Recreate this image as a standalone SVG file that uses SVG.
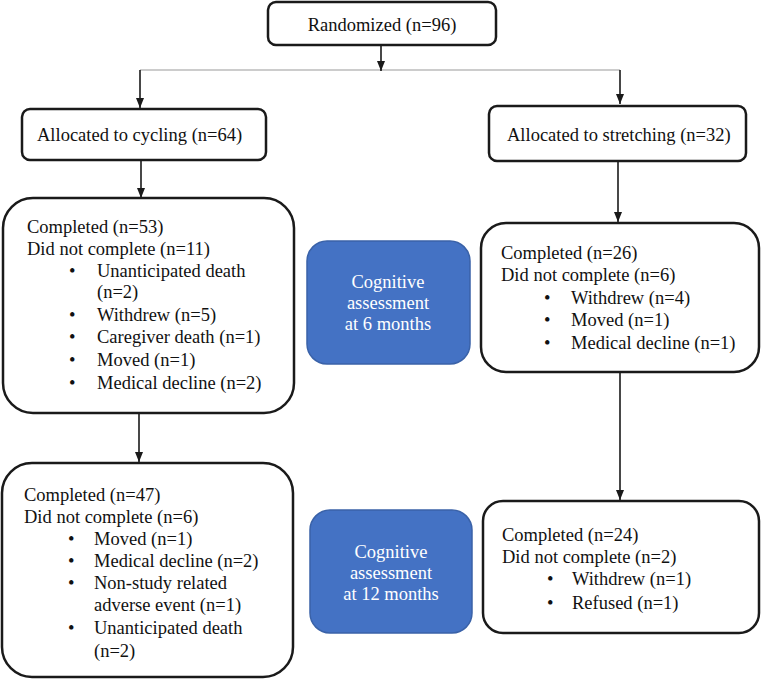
<svg xmlns="http://www.w3.org/2000/svg" width="761" height="679" viewBox="0 0 761 679" font-family="'Liberation Serif', 'DejaVu Serif', serif">
<defs>
<marker id="ah" viewBox="0 0 10 10" refX="10" refY="5" markerWidth="10" markerHeight="10" markerUnits="userSpaceOnUse" orient="auto">
<path d="M0,1 L10,5 L0,9 Z" fill="#1a1a1a"/>
</marker>
</defs>
<style>
.box{fill:#fff;stroke:#1a1a1a;stroke-width:2.5}
.blue{fill:#4472c4;stroke:#3a62a8;stroke-width:1.5}
text{font-family:'Liberation Serif','DejaVu Serif',serif;font-size:18.5px;fill:#111}
.w{fill:#fff}
.c{text-anchor:middle}
.ln{stroke:#1a1a1a;stroke-width:1.6;fill:none}
.thin{stroke:#999;stroke-width:1.2;fill:none}
</style>
<rect width="761" height="679" fill="#fff"/>
<g id="connectors">
<line class="thin" x1="140" y1="70" x2="620" y2="70"/>
<line class="ln" x1="381" y1="45" x2="381" y2="71" marker-end="url(#ah)"/>
<line class="ln" x1="140" y1="70" x2="140" y2="108" marker-end="url(#ah)"/>
<line class="ln" x1="620" y1="70" x2="620" y2="104" marker-end="url(#ah)"/>
<line class="ln" x1="141" y1="160" x2="141" y2="198" marker-end="url(#ah)"/>
<line class="ln" x1="618" y1="161" x2="618" y2="222" marker-end="url(#ah)"/>
<line class="ln" x1="139" y1="414" x2="139" y2="462" marker-end="url(#ah)"/>
<line class="ln" x1="620" y1="372" x2="620" y2="500" marker-end="url(#ah)"/>
</g>
<g id="randomized">
<rect class="box" x="268" y="2" width="228" height="43" rx="8"/>
<text class="c" x="382" y="31">Randomized (n=96)</text>
</g>
<g id="cycling">
<rect class="box" x="22" y="109" width="244" height="51" rx="8"/>
<text x="37" y="141">Allocated to cycling (n=64)</text>
</g>
<g id="stretching">
<rect class="box" x="489" y="106" width="257" height="55" rx="8"/>
<text x="507" y="141">Allocated to stretching (n=32)</text>
</g>
<g id="cycling-6m">
<rect class="box" x="3" y="198" width="291" height="215" rx="30"/>
<text x="27" y="233">Completed (n=53)</text>
<text x="27" y="255">Did not complete (n=11)</text>
<text x="69" y="277">•</text><text x="97" y="277">Unanticipated death</text>
<text x="97" y="298">(n=2)</text>
<text x="69" y="321">•</text><text x="97" y="321">Withdrew (n=5)</text>
<text x="69" y="343">•</text><text x="97" y="343">Caregiver death (n=1)</text>
<text x="69" y="366">•</text><text x="97" y="366">Moved (n=1)</text>
<text x="69" y="389">•</text><text x="97" y="389">Medical decline (n=2)</text>
</g>
<g id="assess-6m">
<rect class="blue" x="307" y="241" width="163" height="123" rx="20"/>
<text class="w c" x="388" y="288">Cognitive</text>
<text class="w c" x="388" y="309">assessment</text>
<text class="w c" x="388" y="330">at 6 months</text>
</g>
<g id="stretching-6m">
<rect class="box" x="481" y="223" width="278" height="149" rx="25"/>
<text x="501" y="259">Completed (n=26)</text>
<text x="501" y="281">Did not complete (n=6)</text>
<text x="544" y="304">•</text><text x="571" y="304">Withdrew (n=4)</text>
<text x="544" y="326">•</text><text x="571" y="326">Moved (n=1)</text>
<text x="544" y="349">•</text><text x="571" y="349">Medical decline (n=1)</text>
</g>
<g id="cycling-12m">
<rect class="box" x="2" y="463" width="291" height="214" rx="30"/>
<text x="24" y="501">Completed (n=47)</text>
<text x="24" y="523">Did not complete (n=6)</text>
<text x="68" y="545">•</text><text x="94" y="545">Moved (n=1)</text>
<text x="68" y="567">•</text><text x="94" y="567">Medical decline (n=2)</text>
<text x="68" y="589">•</text><text x="94" y="589">Non-study related</text>
<text x="94" y="611">adverse event (n=1)</text>
<text x="68" y="634">•</text><text x="94" y="634">Unanticipated death</text>
<text x="94" y="657">(n=2)</text>
</g>
<g id="assess-12m">
<rect class="blue" x="310" y="510" width="162" height="123" rx="20"/>
<text class="w c" x="391" y="558">Cognitive</text>
<text class="w c" x="391" y="579">assessment</text>
<text class="w c" x="391" y="600">at 12 months</text>
</g>
<g id="stretching-12m">
<rect class="box" x="483" y="501" width="276" height="132" rx="20"/>
<text x="502" y="541">Completed (n=24)</text>
<text x="502" y="563">Did not complete (n=2)</text>
<text x="547" y="585">•</text><text x="572" y="585">Withdrew (n=1)</text>
<text x="547" y="609">•</text><text x="572" y="609">Refused (n=1)</text>
</g>
</svg>
